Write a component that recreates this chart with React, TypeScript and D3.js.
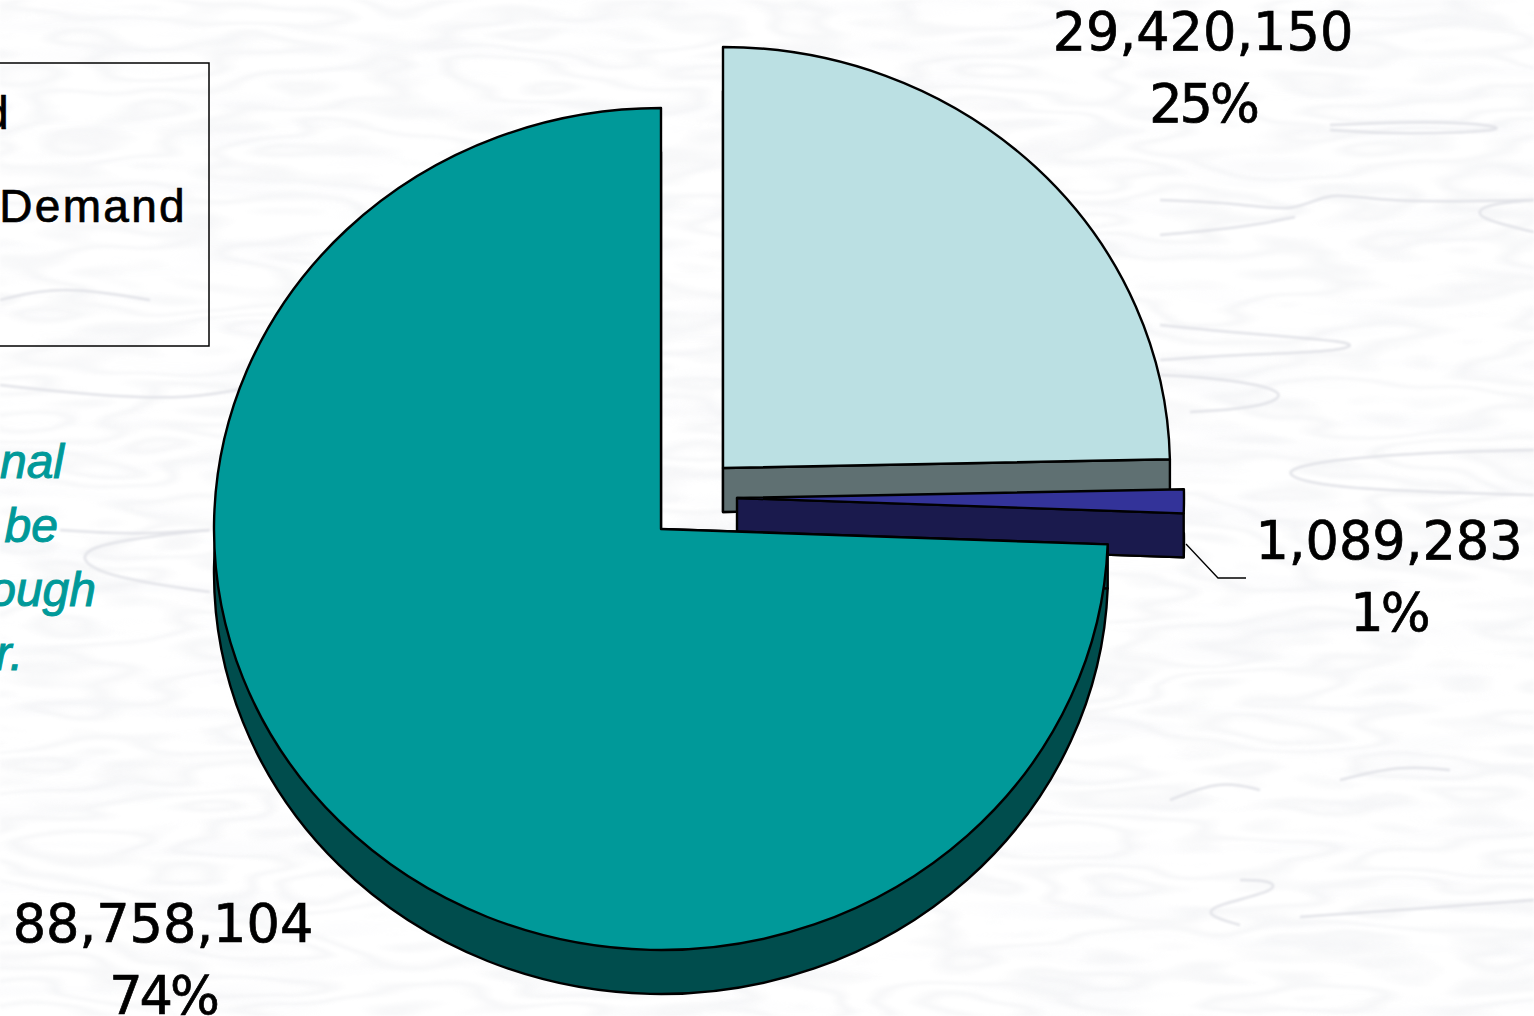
import React from 'react';
import * as d3 from 'd3';

// values
const sliceNames = ['Upper', 'Middle', 'Main'];
const sliceValues = [29420150, 1089283, 88758104];
const topColors = ['#BBE0E3', '#333399', '#009999'];
const sideColors = ['#5F7072', '#1A1A4D', '#004D4D'];

const legendLines = [
  { text: 'd', x: 11, y: 129 },
  { text: 'Demand', x: 187, y: 222 },
];
const noteLines = [
  { text: 'nal', x: 64, y: 478 },
  { text: 'be', x: 58, y: 542 },
  { text: 'ough', x: 96, y: 606 },
  { text: 'r.', x: 23, y: 670 },
];

// exploded centre of each slice, its depth and where its label sits
const centers = [
  { x: 723, y: 468, depth: 44 },
  { x: 737, y: 498, depth: 44 },
  { x: 661, y: 529, depth: 44 },
];
const labelSpots = [
  { x: 1203, y: 50 },
  { x: 1389, y: 559 },
  { x: 163, y: 942 },
];

const rx = 447;
const ry = 421;

// the faint contour lines in the paper background
const paperLines: [number, number][][] = [
  [[1160, 200], [1240, 203], [1295, 213], [1330, 190], [1380, 203], [1534, 200]],
  [[1160, 235], [1240, 228], [1295, 217]],
  [[1534, 200], [1480, 205], [1475, 218], [1534, 232]],
  [[1160, 325], [1260, 335], [1365, 342], [1340, 352], [1230, 355], [1160, 360]],
  [[1160, 375], [1220, 378], [1295, 392], [1260, 408], [1190, 412]],
  [[1534, 450], [1400, 453], [1290, 465], [1285, 478], [1350, 490], [1534, 495]],
  [[1330, 125], [1450, 120], [1530, 130], [1400, 135], [1330, 130]],
  [[1240, 880], [1270, 880], [1280, 890], [1215, 905], [1205, 915], [1240, 925]],
  [[1300, 917], [1400, 910], [1534, 900]],
  [[1170, 800], [1220, 780], [1260, 790]],
  [[1340, 780], [1400, 765], [1450, 770]],
  [[60, 530], [130, 535], [210, 530]],
  [[210, 530], [70, 545], [90, 575], [210, 592]],
  [[0, 385], [90, 395], [190, 400], [260, 385]],
  [[0, 300], [60, 285], [150, 300]],
];

const total = d3.sum(sliceValues);
const formatCount = d3.format(',');
const formatShare = d3.format('.0%');

export default function App() {
  const pie = d3.pie<number>().sort(null).startAngle(0).endAngle(2 * Math.PI);
  const slices = pie(sliceValues);
  const arc = d3.arc<d3.PieArcDatum<number>>().innerRadius(0).outerRadius(rx);
  const paperPath = d3.line().curve(d3.curveBasis);
  const labelFont = { fontFamily: 'DejaVu Sans', fontSize: 52.5, fill: '#000', stroke: '#000', strokeWidth: 0.7 };

  const sliceShape = (i: number, dy: number, fill: string) => (
    <path
      d={arc(slices[i]) || ''}
      transform={`translate(${centers[i].x},${centers[i].y + dy}) scale(1,${ry / rx})`}
      fill={fill}
      stroke="#000"
      strokeWidth={2.4}
      strokeLinejoin="round"
      vectorEffect="non-scaling-stroke"
    />
  );

  // wall under the radius that faces the viewer
  const frontWall = (i: number) => {
    const angle = i < 2 ? slices[i].endAngle : slices[i].startAngle;
    const [px, py] = d3.pointRadial(angle, rx);
    const c = centers[i];
    const ex = c.x + px;
    const ey = c.y + (py * ry) / rx;
    return (
      <polygon
        points={`${c.x},${c.y} ${ex},${ey} ${ex},${ey + c.depth} ${c.x},${c.y + c.depth}`}
        fill={sideColors[i]}
        stroke="#000"
        strokeWidth={2.4}
        strokeLinejoin="round"
      />
    );
  };

  return (
    <svg
      width={1534}
      height={1016}
      viewBox="0 0 1534 1016"
      style={{ position: 'absolute', left: 0, top: 0, display: 'block' }}
    >
      <defs>
        {/* banded noise gives the wood-grain contours of the paper */}
        <filter id="paper" x="0" y="0" width="100%" height="100%">
          <feTurbulence type="fractalNoise" baseFrequency="0.0035 0.016" numOctaves={3} seed={7} />
          <feColorMatrix
            type="matrix"
            values="0 0 0 0 0.80  0 0 0 0 0.81  0 0 0 0 0.84  1 0 0 0 0"
          />
          <feComponentTransfer>
            <feFuncA type="table" tableValues="0 0 0 0 0 0.8 0 0 0.8 0 0 0.8 0 0 0.8 0 0 0 0 0" />
          </feComponentTransfer>
          <feGaussianBlur stdDeviation="1" />
        </filter>
        <filter id="streaks" x="0" y="0" width="100%" height="100%">
          <feTurbulence type="fractalNoise" baseFrequency="0.006 0.05" numOctaves={2} seed={23} />
          <feColorMatrix
            type="matrix"
            values="0 0 0 0 0.88  0 0 0 0 0.89  0 0 0 0 0.93  3 0 0 0 -1.5"
          />
        </filter>
        <filter id="soft">
          <feGaussianBlur stdDeviation="0.9" />
        </filter>
      </defs>

      <rect width={1534} height={1016} fill="#FFFFFF" />
      <rect width={1534} height={1016} filter="url(#streaks)" opacity={0.25} />
      <rect width={1534} height={1016} filter="url(#paper)" opacity={0.4} />
      <g fill="none" stroke="#E2E3E8" strokeWidth={2.5} filter="url(#soft)">
        {paperLines.map((pts, i) => (
          <path key={i} d={paperPath(pts) || ''} />
        ))}
      </g>

      {/* legend box, cut off by the left edge */}
      <rect x={-40} y={63} width={249} height={283} fill="none" stroke="#000" strokeWidth={1.5} />
      {legendLines.map(d => (
        <text
          key={d.text}
          x={d.x}
          y={d.y}
          textAnchor="end"
          fontFamily="Liberation Sans"
          fontSize={46}
          letterSpacing={2.3}
          fill="#000"
          stroke="#000"
          strokeWidth={0.7}
        >
          {d.text}
        </text>
      ))}

      {noteLines.map(d => (
        <text
          key={d.text}
          x={d.x}
          y={d.y}
          textAnchor="end"
          fontFamily="Liberation Sans"
          fontStyle="italic"
          fontSize={48}
          fill="#009999"
          stroke="#009999"
          strokeWidth={1}
        >
          {d.text}
        </text>
      ))}

      {/* depth is the same slice pushed down, the top surface is drawn over it */}
      {sliceNames.map((name, i) => (
        <g key={name}>
          {sliceShape(i, centers[i].depth, sideColors[i])}
          {frontWall(i)}
          {sliceShape(i, 0, topColors[i])}
        </g>
      ))}

      {/* leader of the small slice */}
      <polyline
        points={`${centers[1].x + 449},${centers[1].y + 46} ${centers[1].x + 481},${centers[1].y + 80} ${centers[1].x + 509},${centers[1].y + 80}`}
        fill="none"
        stroke="#000"
        strokeWidth={1.3}
      />

      {sliceValues.map((v, i) => (
        <g key={sliceNames[i]} textAnchor="middle" {...labelFont}>
          <text x={labelSpots[i].x} y={labelSpots[i].y}>
            {formatCount(v)}
          </text>
          <text x={labelSpots[i].x} y={labelSpots[i].y + 72} letterSpacing={-3}>
            {formatShare(v / total)}
          </text>
        </g>
      ))}
    </svg>
  );
}
